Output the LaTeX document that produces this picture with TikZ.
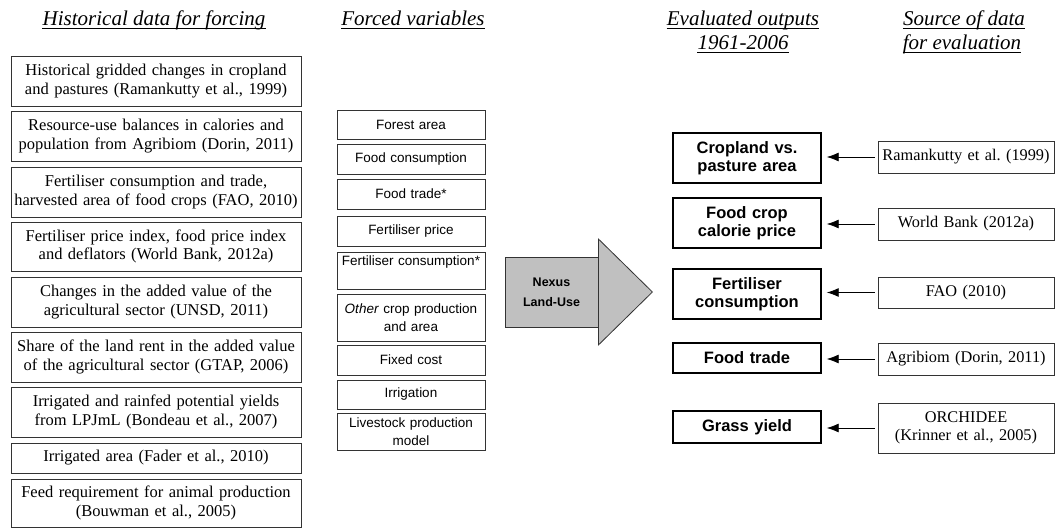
\documentclass[tikz,border=0pt]{standalone}
\usepackage{fontspec}
\setmainfont{Liberation Serif}
\setsansfont{Liberation Sans}
\usetikzlibrary{arrows.meta}
\definecolor{nexgray}{HTML}{C0C0C0}
\definecolor{edge}{HTML}{333333}
\frenchspacing
\begin{document}
\begin{tikzpicture}[x=1pt,y=-1pt,
  box/.style={draw=edge, line width=0.8pt, inner sep=0pt, align=center},
  lbox/.style={box, minimum width=290pt, text width=286pt, font=\fontsize{16.5}{18.5}\selectfont},
  mbox/.style={box, minimum width=148pt, text width=146pt, font=\sffamily\fontsize{13.5}{18}\selectfont},
  obox/.style={draw=black, line width=1.4pt, inner sep=0pt, align=center, minimum width=148pt, text width=146pt, font=\sffamily\bfseries\fontsize{16.5}{18}\selectfont},
  sbox/.style={box, minimum width=176pt, text width=174pt, font=\fontsize{16.3}{18}\selectfont},
  ttl/.style={font=\itshape\fontsize{21}{24}\selectfont, inner sep=0pt, anchor=base},
  uline/.style={line width=0.9pt},
  arr/.style={-{Latex[length=12pt,width=9pt]}, line width=0.8pt, shorten <=3pt, shorten >=5pt}
]
\useasboundingbox (0,0) rectangle (1056,529);

% titles
\node[ttl] (t1) at (154,26) {Historical data for forcing};
\node[ttl] (t2) at (413,26) {Forced variables};
\node[ttl] (t3a) at (743,26) {Evaluated outputs};
\node[ttl] (t3b) at (743,50) {1961-2006};
\node[ttl] (t4a) at (964,26) {Source of data~};
\node[ttl] (t4b) at (962,50) {for evaluation};
\foreach \t in {t1,t2,t3a,t3b,t4a,t4b}
  \draw[uline] ([yshift=-2.5pt]\t.base west) -- ([yshift=-2.5pt]\t.base east);

% historical data
\node[lbox, minimum height=50pt] (h1) at (156,81) {Historical gridded changes in cropland\\and pastures (Ramankutty et al., 1999)};
\node[lbox, minimum height=50pt] (h2) at (156,136) {Resource-use balances in calories and\\population from Agribiom (Dorin, 2011)};
\node[lbox, minimum height=50pt] (h3) at (156,192) {Fertiliser consumption and trade,\\harvested area of food crops (FAO, 2010)};
\node[lbox, minimum height=49pt] (h4) at (156,246.5) {Fertiliser price index, food price index\\and deflators (World Bank, 2012a)};
\node[lbox, minimum height=50pt] (h5) at (156,302) {Changes in the added value of the\\agricultural sector (UNSD, 2011)};
\node[lbox, minimum height=50pt] (h6) at (156,357) {Share of the land rent in the added value\\of the agricultural sector (GTAP, 2006)};
\node[lbox, minimum height=50pt] (h7) at (156,412) {Irrigated and rainfed potential yields\\from LPJmL (Bondeau et al., 2007)};
\node[lbox, minimum height=30pt] (h8) at (156,458) {Irrigated area (Fader et al., 2010)};
\node[lbox, minimum height=48pt] (h9) at (156,503) {Feed requirement for animal production\\(Bouwman et al., 2005)};

% forced variables
\node[mbox, minimum height=29pt] (f1) at (411,124.5) {Forest area};
\node[mbox, minimum height=30pt] (f2) at (411,159) {Food consumption};
\node[mbox, minimum height=30pt] (f3) at (411,194) {Food trade*};
\node[mbox, minimum height=30pt] (f4) at (411,231) {Fertiliser price};
\node[mbox, minimum height=37pt] (f5) at (411,270.5) {\strut Fertiliser consumption*\\\strut};
\node[mbox, minimum height=47pt] (f6) at (411,317.5) {\textit{Other} crop production\\and area};
\node[mbox, minimum height=30pt] (f7) at (411,360) {Fixed cost};
\node[mbox, minimum height=29pt] (f8) at (411,394.5) {Irrigation};
\node[mbox, minimum height=37pt] (f9) at (411,431.5) {Livestock production\\model};

% model arrow
\node[draw=edge, fill=nexgray, line width=0.8pt, minimum width=93pt, minimum height=70pt, inner sep=0pt,
      align=center, font=\sffamily\bfseries\fontsize{12.5}{20}\selectfont] (nexus) at (551.5,292) {Nexus\\Land-Use};
\draw[draw=edge, fill=nexgray, line width=0.8pt, line join=miter]
  (nexus.east) ++(0,-53) -- ++(54,53) -- ++(-54,53) -- cycle;

% evaluated outputs
\node[obox, minimum height=50pt] (o1) at (747,158) {Cropland vs.\\pasture area};
\node[obox, minimum height=50pt] (o2) at (747,223) {Food crop\\calorie price};
\node[obox, minimum height=50pt] (o3) at (747,294) {Fertiliser\\consumption};
\node[obox, minimum height=30pt] (o4) at (747,358) {Food trade};
\node[obox, minimum height=32pt] (o5) at (747,427) {Grass yield};

% sources
\node[sbox, minimum height=32pt] (s1) at (966,157) {Ramankutty et al. (1999)};
\node[sbox, minimum height=32pt] (s2) at (966,224) {World Bank (2012a)};
\node[sbox, minimum height=31pt] (s3) at (966,292.5) {FAO (2010)};
\node[sbox, minimum height=32pt] (s4) at (966,359) {Agribiom (Dorin, 2011)};
\node[sbox, minimum height=50pt] (s5) at (966,428) {ORCHIDEE\\(Krinner et al., 2005)};

\foreach \i in {1,...,5}
  \draw[arr] (s\i.west) -- (s\i.west -| o\i.east);
\end{tikzpicture}
\end{document}
